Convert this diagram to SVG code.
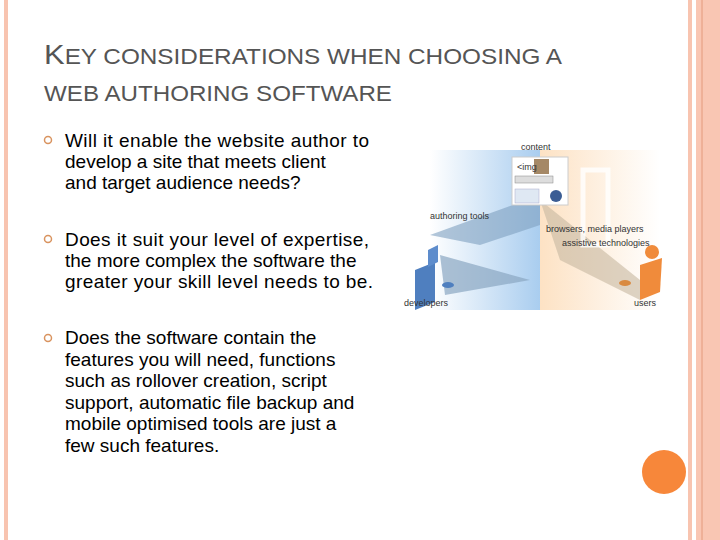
<svg xmlns="http://www.w3.org/2000/svg" width="720" height="540" viewBox="0 0 720 540">
<defs>
<style>
.t{font-family:"Liberation Sans",Arial,sans-serif;fill:#000;font-size:19px}
.h{font-family:"Liberation Sans",Arial,sans-serif;fill:#555}
.s{font-family:"Liberation Sans",Arial,sans-serif;fill:#333;font-size:9px}
.b{fill:none;stroke:#d9935f;stroke-width:1.5}
</style>
<linearGradient id="bl" x1="0" y1="0" x2="1" y2="0"><stop offset="0" stop-color="#fff"/><stop offset="1" stop-color="#a9cdef"/></linearGradient>
<linearGradient id="or" x1="0" y1="0" x2="1" y2="0"><stop offset="0" stop-color="#fde2c4"/><stop offset="1" stop-color="#fff"/></linearGradient>
</defs>
<rect width="720" height="540" fill="#fff"/>
<rect x="4" y="0" width="4" height="540" fill="#f8c4b0"/>
<rect x="688" y="0" width="4" height="540" fill="#f8c4b0"/>
<rect x="696" y="0" width="24" height="540" fill="#f9c6b3"/>
<line x1="702" y1="0" x2="702" y2="540" stroke="#e49a7c" stroke-width="1"/>
<text class="h" x="44" y="64" font-size="28" textLength="518" lengthAdjust="spacingAndGlyphs">K<tspan font-size="22">EY CONSIDERATIONS WHEN CHOOSING A</tspan></text>
<text class="h" x="44" y="101" font-size="22" textLength="348" lengthAdjust="spacingAndGlyphs">WEB AUTHORING SOFTWARE</text>
<g id="bullets">
<circle class="b" cx="48" cy="140" r="3.5"/>
<circle class="b" cx="48" cy="239" r="3.5"/>
<circle class="b" cx="48" cy="338" r="3.5"/>
</g>
<g id="text1"><text class="t" x="65" y="147" textLength="304">Will it enable the website author to</text><text class="t" x="65" y="168">develop a site that meets client</text><text class="t" x="65" y="189">and target audience needs?</text></g>
<g id="text2"><text class="t" x="65" y="246" textLength="304">Does it suit your level of expertise,</text><text class="t" x="65" y="267">the more complex the software the</text><text class="t" x="65" y="288" textLength="308">greater your skill level needs to be.</text></g>
<g id="text3"><text class="t" x="65" y="344">Does the software contain the</text><text class="t" x="65" y="366">features you will need, functions</text><text class="t" x="65" y="387">such as rollover creation, script</text><text class="t" x="65" y="409">support, automatic file backup and</text><text class="t" x="65" y="430">mobile optimised tools are just a</text><text class="t" x="65" y="452">few such features.</text></g>
<g id="picture">
<rect x="430" y="150" width="110" height="160" fill="url(#bl)"/>
<rect x="540" y="150" width="120" height="160" fill="url(#or)"/>
<polygon points="430,235 540,195 540,225 480,245" fill="#7fa0bf" opacity="0.6"/>
<polygon points="440,255 530,280 445,295" fill="#8aa7c2" opacity="0.7"/>
<polygon points="540,200 640,280 640,300 560,260" fill="#c7b7a0" opacity="0.6"/>
<rect x="583" y="170" width="25" height="75" fill="none" stroke="#fff" stroke-width="5" opacity="0.8"/>
<polygon points="415,270 435,262 435,302 415,310" fill="#4f7fbf"/>
<polygon points="428,250 438,245 438,262 428,267" fill="#5d8ccc"/>
<ellipse cx="448" cy="285" rx="6" ry="3" fill="#4f7fbf"/>
<polygon points="640,265 662,258 660,292 640,300" fill="#f08b3b"/>
<circle cx="652" cy="252" r="7" fill="#f08b3b"/>
<ellipse cx="625" cy="283" rx="6" ry="3" fill="#d98a40"/>
<rect x="512" y="157" width="56" height="48" fill="#fff" stroke="#ccc"/>
<rect x="534" y="159" width="15" height="15" fill="#a58866"/>
<text class="s" x="517" y="170">&lt;img</text>
<rect x="515" y="176" width="38" height="7" fill="#ddd" stroke="#888" stroke-width="0.5"/>
<circle cx="556" cy="196" r="6" fill="#3b5d94"/>
<rect x="515" y="189" width="24" height="14" fill="#dfe8f3" stroke="#aac" stroke-width="0.5"/>
<text class="s" x="521" y="150">content</text>
<text class="s" x="430" y="219">authoring tools</text>
<text class="s" x="546" y="232">browsers, media players</text>
<text class="s" x="562" y="246">assistive technologies</text>
<text class="s" x="404" y="306">developers</text>
<text class="s" x="634" y="306">users</text>
</g>
<circle cx="664" cy="472" r="22" fill="#f7873a"/>
</svg>
